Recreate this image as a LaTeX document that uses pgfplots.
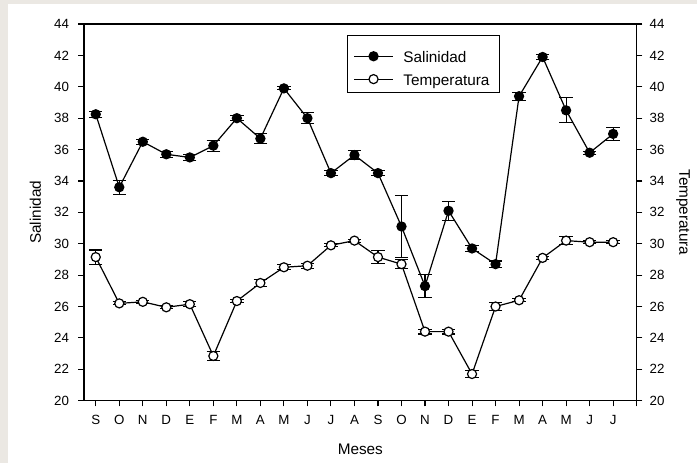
\documentclass[border=0pt]{standalone}
\usepackage{pgfplots}
\usepackage{pgfplotstable}
\pgfplotsset{compat=1.18}
\usepackage{fontspec}
\setmainfont{Liberation Sans}
\definecolor{bggray}{RGB}{235,232,227}

\pgfplotstableread{
x sal salerr temp temperr
0 38.25 0.2 29.15 0.45
1 33.6 0.45 26.2 0.1
2 36.5 0.15 26.3 0.1
3 35.7 0.2 25.95 0.1
4 35.5 0.2 26.15 0.15
5 36.25 0.35 22.85 0.3
6 38.0 0.15 26.35 0.1
7 36.7 0.3 27.5 0.2
8 39.9 0.1 28.5 0.15
9 38.0 0.35 28.6 0.15
10 34.5 0.15 29.9 0.1
11 35.65 0.3 30.2 0.1
12 34.5 0.15 29.15 0.4
13 31.1 1.95 28.7 0.3
14 27.3 0.75 24.4 0.15
15 32.1 0.6 24.4 0.15
16 29.7 0.2 21.7 0.25
17 28.7 0.2 26.0 0.25
18 39.4 0.25 26.4 0.1
19 41.9 0.15 29.1 0.1
20 38.5 0.8 30.2 0.25
21 35.8 0.1 30.1 0.1
22 37.0 0.4 30.1 0.1
}\datatable

\pgfplotsset{
  common/.style={
    at={(0,0)}, anchor=south west,
    scale only axis, width=414.5pt, height=282.5pt,
    xmin=-0.5, xmax=23, ymin=20, ymax=44,
    ytick={20,22,...,44},
    tick align=outside,
    major tick length=4.2pt,
    tick style={black, line width=0.8pt},
    axis line style={black, line width=1pt},
    /pgf/number format/assume math mode=true,
    ticklabel style={font=\fontsize{10}{12}\selectfont},
    label style={font=\fontsize{11.5}{14}\selectfont},
  },
  ebar/.style={error bars/.cd, y dir=both, y explicit,
    error bar style={line width=0.8pt},
    error mark options={rotate=90, mark size=5pt, line width=0.8pt}},
}
\newcommand{\lgstrut}{\rule[-1.85pt]{0pt}{17.5pt}}

\begin{document}
\begin{tikzpicture}
\useasboundingbox (-63pt,-46.725pt) rectangle (459.75pt,300.525pt);
\fill[bggray] (-63pt,-46.725pt) rectangle (459.75pt,300.525pt);
\fill[white] (-57pt,-46.725pt) rectangle (459.75pt,297.525pt);

\begin{axis}[common,
  xtick={0,...,23},
  xticklabels={S,O,N,D,E,F,M,A,M,J,J,A,S,O,N,D,E,F,M,A,M,J,J,{}},
  xtick pos=bottom, ytick pos=left,
  xticklabel style={yshift=-3pt},
  yticklabel style={xshift=-3.5pt},
  xlabel={Meses}, ylabel={Salinidad},
  xlabel style={at={(axis description cs:0.5,-0.128)}, anchor=center},
  ylabel style={at={(axis description cs:-0.0881,0.5)}, anchor=center},
  legend style={at={(axis description cs:0.4753,0.9708)}, anchor=north west,
    draw=black, line width=0.8pt, font=\fontsize{11.5}{14}\selectfont,
    inner xsep=0pt, inner ysep=4.35pt, row sep=0pt, column sep=7.3pt,
    nodes={inner xsep=0pt, inner ysep=0pt}},
  legend cell align=left,
  legend image code/.code={\path (0pt,-8pt) (0pt,8pt); \draw[mark repeat=2,mark phase=2,#1] plot coordinates {(4.7pt,-2.6pt) (19.3pt,-2.6pt) (33.95pt,-2.6pt)};},
]
\addplot[black, line width=0.9pt, mark=*, mark size=3.4pt, mark options={fill=black, draw=black}, ebar]
  table[x=x, y=sal, y error=salerr]{\datatable};
\addlegendentry{\lgstrut Salinidad}
\addplot[black, line width=0.9pt, mark=*, mark size=3.4pt, mark options={fill=white, draw=black}, ebar]
  table[x=x, y=temp, y error=temperr]{\datatable};
\addlegendentry{\lgstrut Temperatura\rule{7.7pt}{0pt}}
\end{axis}

\begin{axis}[common,
  axis x line=none,
  axis y line*=right,
  ytick pos=right,
  yticklabel style={xshift=2pt},
  ylabel={Temperatura},
  ylabel style={at={(axis description cs:1.0838,0.5)}, anchor=center, rotate=180},
]
\end{axis}
\end{tikzpicture}
\end{document}
